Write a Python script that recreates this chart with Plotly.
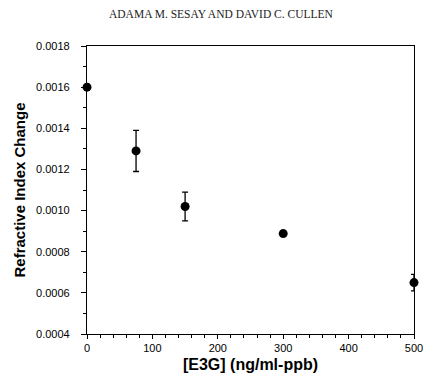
import plotly.graph_objects as go

conc = [0, 75, 150, 300, 500]
ri_change = [0.00160, 0.00129, 0.00102, 0.000888, 0.00065]
ri_err = [0.000012, 0.00010, 0.00007, 0.000012, 0.00004]

x_ticks = [0, 100, 200, 300, 400, 500]
y_ticks = [0.0004, 0.0006, 0.0008, 0.0010, 0.0012, 0.0014, 0.0016, 0.0018]
y_ticklabels = ["0.0004", "0.0006", "0.0008", "0.0010", "0.0012", "0.0014", "0.0016", "0.0018"]

fig = go.Figure()
fig.add_trace(go.Scatter(
    x=conc, y=ri_change, mode="markers",
    marker=dict(color="black", size=9, symbol="circle"),
    error_y=dict(type="data", array=ri_err, visible=True, color="black", thickness=1.3, width=3),
    cliponaxis=False,
))

fig.update_layout(
    width=434, height=383,
    margin=dict(l=87, r=11, t=46, b=49),
    paper_bgcolor="white", plot_bgcolor="white",
    showlegend=False,
    font=dict(family="Liberation Sans, Arial", color="black"),
    annotations=[dict(
        text="ADAMA M. SESAY AND DAVID C. CULLEN",
        xref="paper", yref="paper", x=0.41, y=1, yshift=32,
        xanchor="center", yanchor="middle", showarrow=False,
        font=dict(family="Liberation Serif, Times New Roman", size=11.5, color="#222"),
    )],
)
fig.update_xaxes(
    range=[0, 500], tickvals=x_ticks, ticks="outside", ticklen=4, tickwidth=1,
    tickcolor="black", showline=True, linecolor="black", linewidth=1.2, mirror=True,
    showgrid=False, zeroline=False, tickfont=dict(size=11),
    minor=dict(dtick=20, ticks="outside", ticklen=3, tickcolor="black"),
    title=dict(text="<b>[E3G] (ng/ml-ppb)</b>", font=dict(size=16), standoff=5),
)
fig.update_yaxes(
    range=[0.0004, 0.0018], tickvals=y_ticks, ticktext=y_ticklabels, ticks="outside",
    ticklen=5, tickwidth=1, tickcolor="black", showline=True, linecolor="black",
    linewidth=1.2, mirror=True, showgrid=False, zeroline=False, tickfont=dict(size=11),
    ticklabelstandoff=9,
    minor=dict(dtick=0.0001, ticks="outside", ticklen=3, tickcolor="black"),
    title=dict(text="<b>Refractive Index Change</b>", font=dict(size=15), standoff=6),
)

fig.write_html("out.html")
